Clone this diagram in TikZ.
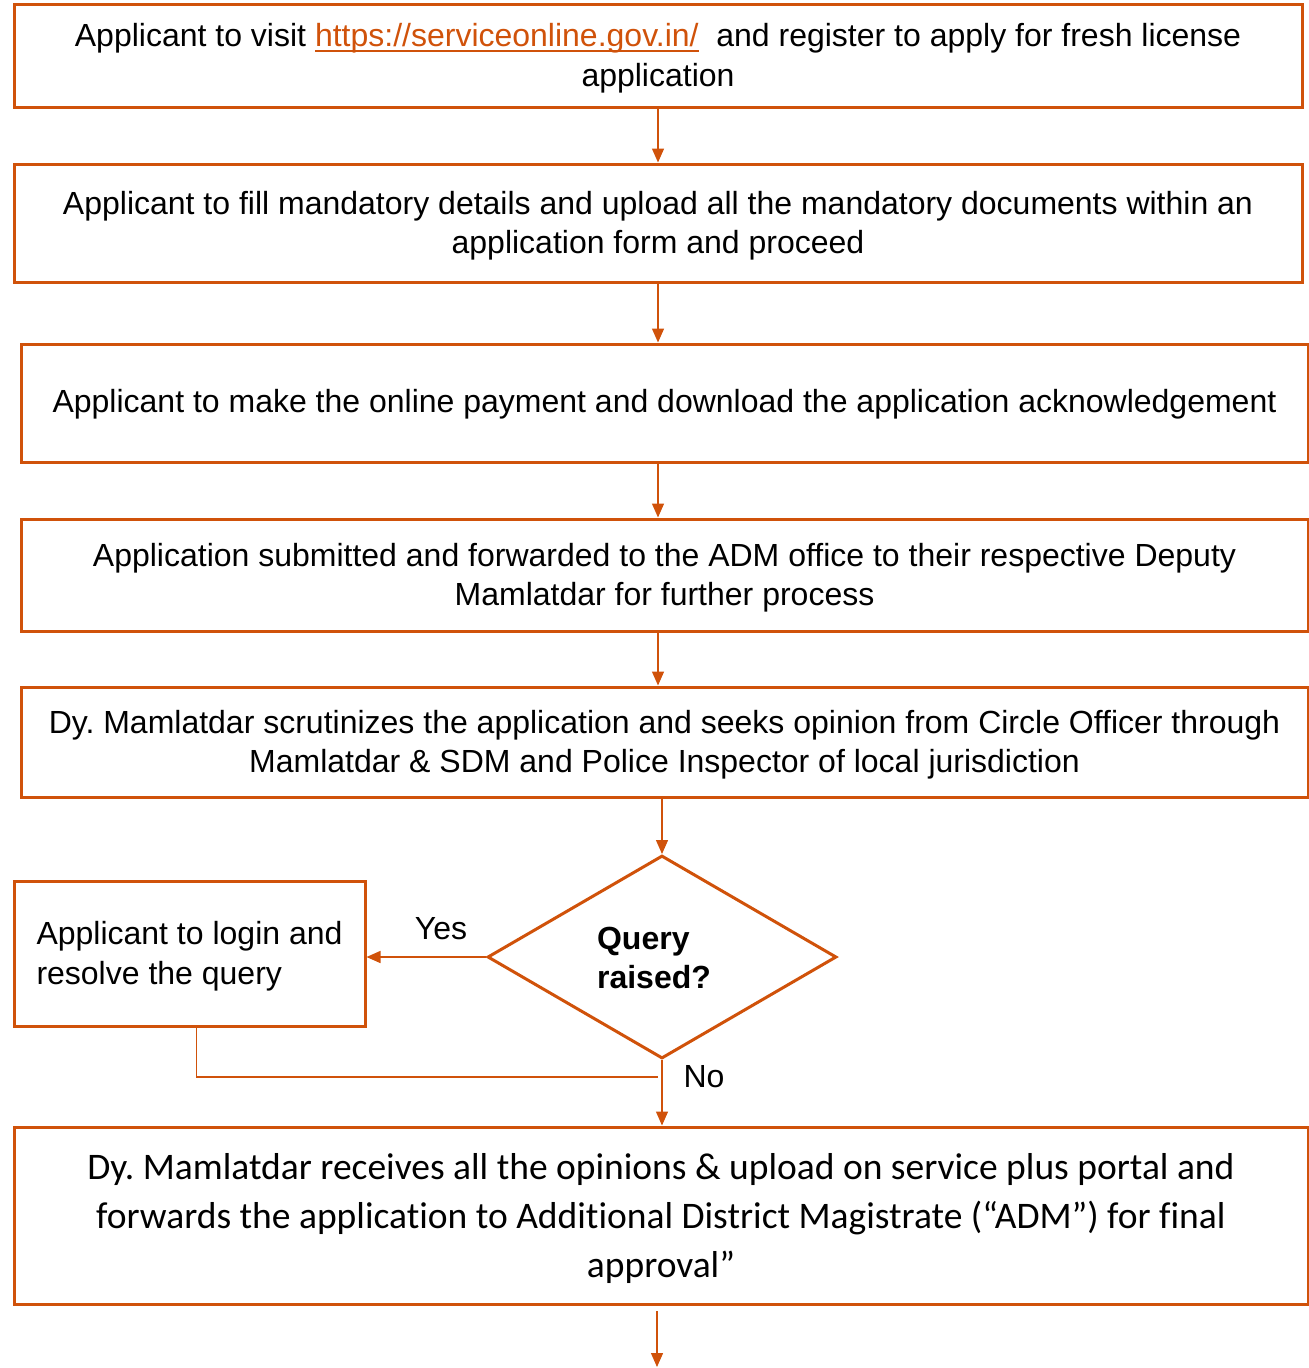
\documentclass[tikz,border=0pt]{standalone}
\usepackage{fontspec}
\setmainfont{Liberation Sans}
\newfontfamily\calfont[Ligatures=NoCommon]{Carlito}
\usetikzlibrary{arrows.meta,shapes.geometric}
\definecolor{orn}{RGB}{208,82,10}
\frenchspacing
\newcommand{\linkul}[1]{\setbox0\hbox{#1}\rlap{\rule[-5.5pt]{\wd0}{1.8pt}}\box0}
\tikzset{
  box/.style={draw=orn, line width=3pt, inner sep=0pt},
  txt/.style={inner sep=0pt, align=center, font=\fontsize{32}{39.5}\selectfont},
  arr/.style={draw=orn, line width=1.4pt, -{Triangle[length=14pt,width=12pt]}},
  conn/.style={draw=orn, line width=1.4pt},
  lbl/.style={inner sep=0pt, font=\fontsize{32}{39.5}\selectfont}
}
\begin{document}
\begin{tikzpicture}[x=1pt,y=-1pt]
\useasboundingbox (0,0) rectangle (1309,1368);
% boxes
\node[box, minimum width=1288pt, minimum height=103pt] (b1) at (658,55.5) {};
\node[box, minimum width=1288pt, minimum height=118pt] (b2) at (658,223) {};
\node[box, minimum width=1287pt, minimum height=118pt] (b3) at (664.5,403) {};
\node[box, minimum width=1287pt, minimum height=112pt] (b4) at (664.5,575) {};
\node[box, minimum width=1287pt, minimum height=110pt] (b5) at (664.5,742) {};
\node[box, diamond, aspect=1.72, minimum width=349pt, minimum height=203pt] (q) at (662,957) {};
\node[box, minimum width=351pt, minimum height=145pt] (s) at (189.5,953.5) {};
\node[box, minimum width=1294pt, minimum height=177pt] (b6) at (661,1215.5) {};
% texts
\node[txt] (b1t) at ([yshift=-2.5pt]b1.center)
  {Applicant to visit \textcolor{orn}{\linkul{https://serviceonline.gov.in/}}\ \ and register to apply for fresh license\\application};
\node[txt] (b2t) at ([yshift=-2.5pt]b2.center)
  {Applicant to fill mandatory details and upload all the mandatory documents within an\\application form and proceed};
\node[txt] (b3t) at ([yshift=-1.5pt]b3.center)
  {Applicant to make the online payment and download the application acknowledgement};
\node[txt] (b4t) at ([yshift=-2.5pt]b4.center)
  {Application submitted and forwarded to the ADM office to their respective Deputy\\Mamlatdar for further process};
\node[txt] (b5t) at ([yshift=-2.5pt]b5.center)
  {Dy. Mamlatdar scrutinizes the application and seeks opinion from Circle Officer through\\Mamlatdar \& SDM and Police Inspector of local jurisdiction};
\node[txt, align=left, font=\fontsize{32}{39.5}\selectfont\bfseries] (qt) at (654,958) {Query\\raised?};
\node[txt, align=left] (st) at ([yshift=-2.5pt]s.center) {Applicant to login and\\resolve the query};
\node[txt, font=\calfont\fontsize{37.5}{49}\selectfont] (b6t) at ([yshift=-3pt]b6.center)
  {Dy. Mamlatdar receives all the opinions \& upload on service plus portal and\\forwards the application to Additional District Magistrate (“ADM”) for final\\approval”};
\node[lbl] (yes) at (441,929) {Yes};
\node[lbl] (no) at (704,1077) {No};
% connectors
\coordinate (j) at (658,1077);
\coordinate (e1) at (657,1311);
\coordinate (e2) at (657,1367);
\draw[arr] (b1.south) -- (b2.north);
\draw[arr] (b2.south) -- (b2.south |- b3.north);
\draw[arr] (b3.south -| b2.south) -- (b4.north -| b2.south);
\draw[arr] (b4.south -| b2.south) -- (b5.north -| b2.south);
\draw[arr] (b5.south -| q.north) -- (q.north);
\draw[arr] (q.west) -- (q.west -| s.east);
\draw[conn] ([xshift=7pt]s.south) |- (j);
\draw[arr] (q.south) -- (q.south |- b6.north);
\draw[arr] (e1) -- (e2);
\end{tikzpicture}
\end{document}
